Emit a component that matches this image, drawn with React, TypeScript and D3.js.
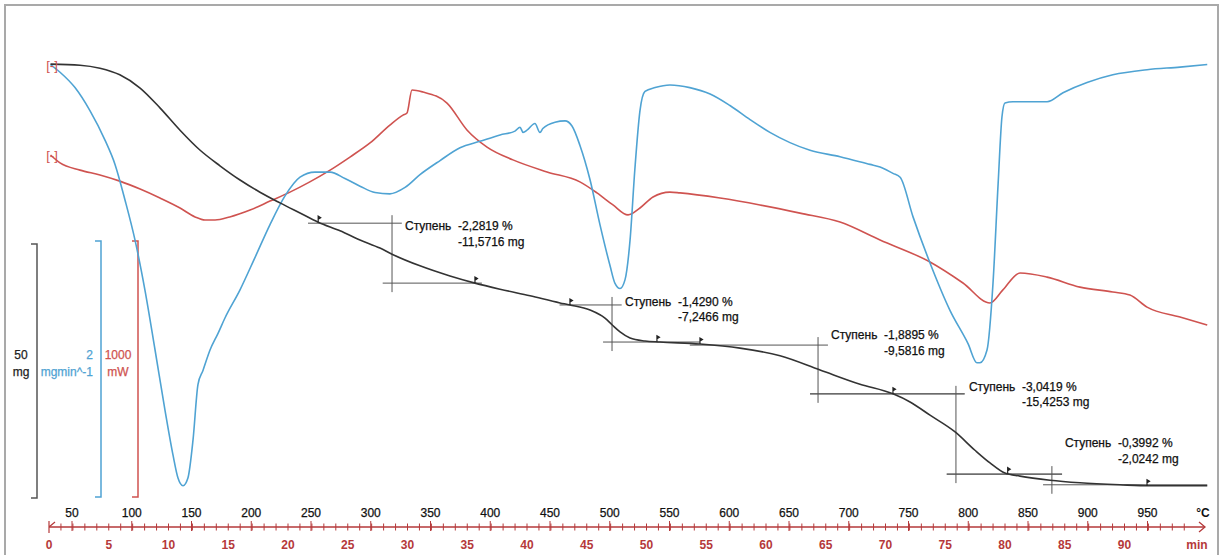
import React, { useRef, useEffect } from "react";
import * as d3 from "d3";

// TG, mg vs °C
const tgData: [number, number][] = [
  [32, 507.4], [56.7, 507.2], [73.4, 506.6], [90, 505.3], [107, 502.7], [123.6, 498.8],
  [140.4, 494.4], [157, 490.5], [173.8, 487.4], [190.6, 484.6], [207.3, 482.2], [224, 480.1],
  [240.8, 478.1], [256, 476.3], [274.3, 474.6], [291, 472.8], [307.7, 471.2], [317.8, 470.0],
  [341.2, 467.7], [366.3, 465.7], [387.2, 464.3], [408.2, 463.1], [433.3, 461.8], [458.4, 460.4],
  [466.7, 460.0], [483.5, 459.0], [496, 457.4], [501.9, 456.1], [508.6, 454.7], [517, 453.5],
  [529.5, 452.9], [542, 452.7], [575.5, 452.3], [609, 451.5], [642.5, 450.0], [676, 447.2],
  [709.4, 444.4], [737, 442.5], [751.3, 440.9], [768, 438.3], [789, 435.0], [805.6, 431.4],
  [818.2, 428.9], [830.7, 426.9], [843.3, 426.3], [868.4, 425.5], [893.5, 425.0], [927, 424.6],
  [952, 424.4], [1000, 424.4],
];

// DTG, mg/min vs °C
const dtgData: [number, number][] = [
  [32, -0.02], [40, -0.08], [52.5, -0.2], [65, -0.38], [77.6, -0.61], [86, -0.8], [94.4, -1.08],
  [102.7, -1.39], [111, -1.78], [119.5, -2.25], [127.8, -2.72], [134.5, -3.07], [138.7, -3.25],
  [142.9, -3.31], [147, -3.25], [151.3, -2.95], [155.4, -2.52], [159.6, -2.41], [165.5, -2.25],
  [172.2, -2.12], [178, -2.0], [190.6, -1.78], [203, -1.53], [215.7, -1.27], [228, -1.05],
  [240.8, -0.9], [253.3, -0.86], [266, -0.86], [278.4, -0.91], [291, -0.97], [303.6, -1.02],
  [316, -1.03], [328.7, -0.98], [341.2, -0.88], [358, -0.77], [374.7, -0.67], [391.4, -0.62],
  [408.2, -0.57], [420.7, -0.54], [424.9, -0.51], [427.5, -0.55], [431, -0.53], [437.4, -0.48],
  [441.6, -0.55], [444, -0.52], [454.2, -0.47], [462.6, -0.46], [468.4, -0.5], [475, -0.65],
  [483.5, -0.92], [491.8, -1.27], [500.2, -1.59], [504.4, -1.73], [508.6, -1.77], [512.8, -1.7],
  [517, -1.39], [521, -0.84], [525.3, -0.38], [529.5, -0.23], [538, -0.2], [550.4, -0.18],
  [567, -0.2], [584, -0.25], [600.6, -0.34], [617.4, -0.45], [634, -0.55], [650.8, -0.63],
  [667.6, -0.69], [692.7, -0.74], [717.8, -0.8], [726.2, -0.82], [737, -0.87], [743, -0.9],
  [753.8, -1.21], [768, -1.57], [784.7, -1.94], [799.8, -2.2], [807.3, -2.35], [809.8, -2.35],
  [815.7, -2.25], [820.7, -1.73], [825, -0.95], [828.2, -0.43], [830.7, -0.32], [837.4, -0.31],
  [866, -0.31], [879.3, -0.24], [899.4, -0.16], [921, -0.1], [949.6, -0.06], [977.2, -0.04],
  [1000, -0.02],
];

// DSC, mW vs °C
const dscData: [number, number][] = [
  [32, 957], [40, 926], [56.7, 898], [73.4, 879], [90, 855], [107, 824], [123.6, 789],
  [140.4, 750], [153, 715], [161.3, 703], [169.7, 703], [182, 715], [199, 742], [215.7, 777],
  [232.4, 812], [249, 852], [266, 898], [282.6, 949], [299.4, 1004], [316, 1074], [327, 1113],
  [330.3, 1121], [334.5, 1211], [343.7, 1203], [363.8, 1160], [380.5, 1055], [397.3, 988],
  [419, 938], [447.5, 891], [475, 852], [489.3, 809], [502.7, 762], [515.3, 723], [525.3, 750],
  [536.2, 793], [550.4, 812], [558.8, 809], [592.3, 789], [625.7, 762], [659.2, 730],
  [692.7, 695], [726.2, 625], [768, 539], [795.6, 457], [818.2, 379], [829, 430], [843.3, 496],
  [866, 480], [893.5, 441], [921, 422], [935.3, 410], [949.6, 363], [977.2, 324], [1000, 293],
];

// mass-loss steps
const stepPercent = ["-2,2819 %", "-1,4290 %", "-1,8895 %", "-3,0419 %", "-0,3992 %"];
const stepMass = ["-11,5716 mg", "-7,2466 mg", "-9,5816 mg", "-15,4253 mg", "-2,0242 mg"];
const stepMid = [317.8, 501.9, 674.3, 789.7, 870];
const stepUpper = [476.1, 460.0, 452.1, 442.5, 426.7];
const stepLower = [464.3, 452.7, 442.5, 426.7, 424.6];
const stepUpperRange = [[247.5, 326], [458, 510], [567, 682.6], [667.6, 797], [782, 878.5]];
const stepLowerRange = [[310, 393], [494.4, 575.5], [667.6, 797], [782, 878.5], [862.6, 1000]];
const markerTemps = [256, 387.2, 466.7, 539.5, 575.5, 737, 833, 949.6];

const tempTicks = d3.range(50, 951, 50);
const timeTicks = d3.range(0, 91, 5);

const W = 1221;
const H = 555;
const BLUE = "#4fa3d3";
const RED = "#cf5350";
const AXRED = "#b5393a";
const FONT = "Liberation Sans, Arial, sans-serif";
const labelDy = [7, 1, -6, -3, -27];

export default function App() {
  const svgRef = useRef<SVGSVGElement>(null);

  useEffect(() => {
    const svg = d3.select(svgRef.current);
    svg.selectAll("*").remove();

    const tempX = d3.scaleLinear().domain([50, 950]).range([72, 1147.5]);
    const timeX = d3.scaleLinear().domain([0, 90]).range([49, 1124.5]);
    const tgY = d3.scaleLinear().domain([422, 472]).range([498, 244]);
    const dtgY = d3.scaleLinear().domain([-2, 0]).range([318, 62]);
    const dscY = d3.scaleLinear().domain([0, 1000]).range([400, 144]);

    // frame
    svg.append("rect")
      .attr("x", 5).attr("y", 5).attr("width", 1213).attr("height", 570)
      .attr("fill", "white").attr("stroke", "#a9a9a9").attr("stroke-width", 2);

    // scale brackets
    const bracket = (x: number, y0: number, y1: number, color: string) => {
      svg.append("path")
        .attr("d", `M${x - 6},${y0}H${x}V${y1}H${x - 6}`)
        .attr("fill", "none").attr("stroke", color).attr("stroke-width", 1.5);
    };
    bracket(37, tgY(472), tgY(422), "#555");
    const dtgLen = dtgY(-2) - dtgY(0);
    bracket(101, 497 - dtgLen, 497, BLUE);
    const dscLen = dscY(0) - dscY(1000);
    bracket(138, 497 - dscLen, 497, RED);

    const label = (x: number, y: number, t: string, color: string, anchor = "middle") =>
      svg.append("text").attr("x", x).attr("y", y).attr("text-anchor", anchor)
        .attr("font-family", FONT).attr("font-size", 12).attr("fill", color)
        .attr("stroke", color).attr("stroke-width", 0.25).text(t);
    label(21, 359, "50", "#222");
    label(21, 376, "mg", "#222");
    label(93, 359, "2", BLUE, "end");
    label(93, 376, "mgmin^-1", BLUE, "end");
    label(118, 359, "1000", RED);
    label(118, 376, "mW", RED);

    // bottom axis
    const axY = 527;
    const ax = svg.append("g");
    ax.append("line").attr("x1", 49).attr("x2", 1205).attr("y1", axY).attr("y2", axY)
      .attr("stroke", AXRED).attr("stroke-width", 1.5);
    ax.append("path").attr("d", `M1199,${axY - 5}L1205,${axY}L1199,${axY + 5}`)
      .attr("fill", "none").attr("stroke", AXRED).attr("stroke-width", 1.3);
    ax.append("path").attr("d", `M49,${axY - 6}V${axY + 6}M49,${axY}L55,${axY - 5}`)
      .attr("fill", "none").attr("stroke", AXRED).attr("stroke-width", 1.2);
    ax.selectAll(".mt").data(d3.range(1, 96)).join("line")
      .attr("x1", (d) => timeX(d)).attr("x2", (d) => timeX(d))
      .attr("y1", axY - 3.5).attr("y2", axY + 3.5)
      .attr("stroke", AXRED).attr("stroke-width", 1);
    ax.selectAll(".tt").data(tempTicks).join("line")
      .attr("x1", (d) => tempX(d)).attr("x2", (d) => tempX(d))
      .attr("y1", axY - 6).attr("y2", axY + 4)
      .attr("stroke", AXRED).attr("stroke-width", 1);
    ax.selectAll(".tl").data(tempTicks).join("text")
      .attr("x", (d) => tempX(d)).attr("y", 517).attr("text-anchor", "middle")
      .attr("font-family", FONT).attr("font-size", 12).attr("fill", "#111")
      .attr("stroke", "#111").attr("stroke-width", 0.25)
      .text((d) => d);
    ax.append("text").attr("x", 1203).attr("y", 517).attr("text-anchor", "middle")
      .attr("font-family", FONT).attr("font-size", 12).attr("font-weight", "bold")
      .attr("fill", "#111").text("°C");
    ax.selectAll(".ml").data(timeTicks).join("text")
      .attr("x", (d) => timeX(d)).attr("y", 549).attr("text-anchor", "middle")
      .attr("font-family", FONT).attr("font-size", 12).attr("font-weight", "bold")
      .attr("fill", AXRED).text((d) => d);
    ax.append("text").attr("x", 1197).attr("y", 549).attr("text-anchor", "middle")
      .attr("font-family", FONT).attr("font-size", 12).attr("font-weight", "bold")
      .attr("fill", AXRED).text("min");

    // curves
    const draw = (data: [number, number][], y: d3.ScaleLinear<number, number>, color: string) => {
      const line = d3.line<[number, number]>()
        .x((d) => tempX(d[0])).y((d) => y(d[1])).curve(d3.curveMonotoneX);
      svg.append("path").datum(data).attr("d", line)
        .attr("fill", "none").attr("stroke", color).attr("stroke-width", 1.6);
    };
    draw(dscData, dscY, RED);
    draw(dtgData, dtgY, BLUE);

    // step constructions
    const g = svg.append("g").attr("stroke", "#555").attr("stroke-width", 1);
    stepMid.forEach((mid, i) => {
      const yu = tgY(stepUpper[i]);
      const yl = tgY(stepLower[i]);
      g.append("line").attr("x1", tempX(stepUpperRange[i][0])).attr("x2", tempX(stepUpperRange[i][1]))
        .attr("y1", yu).attr("y2", yu);
      g.append("line").attr("x1", tempX(stepLowerRange[i][0])).attr("x2", tempX(stepLowerRange[i][1]))
        .attr("y1", yl).attr("y2", yl);
      g.append("line").attr("x1", tempX(mid)).attr("x2", tempX(mid))
        .attr("y1", yu - 8).attr("y2", yl + 9);
      const tx = tempX(mid);
      const ty = yu + labelDy[i];
      label(tx + 13, ty, "Ступень", "#111", "start");
      label(tx + 66, ty, stepPercent[i], "#111", "start");
      label(tx + 66, ty + 15.5, stepMass[i], "#111", "start");
    });

    draw(tgData, tgY, "#333");

    // small flags on TG
    const bis = d3.bisector((d: [number, number]) => d[0]).left;
    markerTemps.forEach((t) => {
      const j = Math.max(1, bis(tgData, t));
      const a = tgData[j - 1], b = tgData[j];
      const m = a[1] + ((t - a[0]) / (b[0] - a[0])) * (b[1] - a[1]);
      const x = tempX(t), y = tgY(m);
      svg.append("path").attr("d", `M${x},${y}V${y - 6}L${x + 2.5},${y - 4.5}L${x},${y - 3}`)
        .attr("fill", "#222").attr("stroke", "#222").attr("stroke-width", 1.2);
    });

    // start markers
    [dtgY(-0.02), dscY(957)].forEach((y) => {
      svg.append("text").attr("x", 52).attr("y", y + 5).attr("text-anchor", "middle")
        .attr("font-family", FONT).attr("font-size", 13).attr("fill", RED).text("[-]");
    });
  }, []);

  return (
    <svg ref={svgRef} width={W} height={H}
      style={{ position: "absolute", left: 0, top: 0, background: "white" }} />
  );
}
